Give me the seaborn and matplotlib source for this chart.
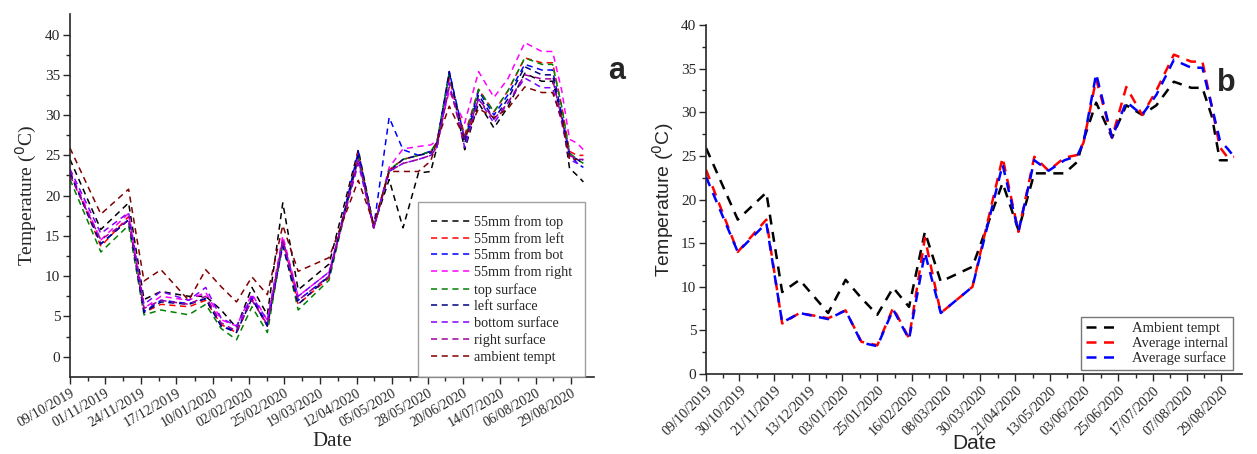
import numpy as np
import pandas as pd
import matplotlib.pyplot as plt
import matplotlib.dates as mdates
import seaborn as sns

# sampling dates (shared by both panels)
dates = ["09/10/2019", "29/10/2019", "16/11/2019", "26/11/2019", "07/12/2019", "25/12/2019",
         "05/01/2020", "15/01/2020", "25/01/2020", "04/02/2020", "14/02/2020", "24/02/2020",
         "05/03/2020", "25/03/2020", "13/04/2020", "23/04/2020", "03/05/2020", "12/05/2020",
         "22/05/2020", "30/05/2020", "03/06/2020", "11/06/2020", "21/06/2020", "30/06/2020",
         "10/07/2020", "19/07/2020", "30/07/2020", "10/08/2020", "17/08/2020", "23/08/2020",
         "28/08/2020", "02/09/2020", "06/09/2020"]

# panel a
mm55_top = [24.5, 15.8, 19.1, 7.1, 8.1, 7.5, 7.5, 5.8, 3.6, 8.6, 5.2, 19.1, 8.3, 11.5, 25.7, 16.2, 22.0,
            16.0, 22.8, 23.0, 26.0, 35.2, 25.7, 31.5, 28.4, 31.0, 35.2, 34.2, 34.2, 30.0, 23.4, 22.5, 21.7]
mm55_left = [23.0, 13.7, 17.4, 5.5, 6.5, 6.2, 7.0, 4.0, 3.0, 7.2, 3.8, 14.5, 6.5, 9.8, 25.3, 16.0, 23.2,
             24.5, 25.0, 25.5, 26.6, 34.5, 27.5, 33.2, 30.4, 33.0, 37.1, 36.5, 36.5, 31.0, 25.5, 25.0, 25.0]
mm55_bot = [22.8, 14.0, 17.0, 5.6, 7.0, 6.6, 7.2, 3.8, 3.2, 7.3, 4.0, 14.0, 7.0, 10.0, 25.5, 16.1, 29.7,
            25.7, 25.0, 25.5, 26.6, 35.4, 27.0, 33.0, 30.0, 32.5, 36.3, 35.6, 35.6, 30.0, 25.3, 24.0, 23.5]
mm55_right = [23.0, 14.5, 17.8, 6.0, 7.5, 7.0, 8.0, 4.6, 3.8, 7.8, 4.5, 15.0, 7.5, 10.5, 24.5, 16.0, 23.5,
              25.8, 26.1, 26.3, 26.8, 33.0, 29.0, 35.4, 32.2, 34.5, 39.0, 37.9, 37.9, 33.0, 27.0, 26.5, 25.7]
top_surf = [22.0, 13.0, 16.3, 5.2, 5.8, 5.2, 6.5, 3.5, 2.1, 6.2, 3.0, 14.2, 5.8, 9.5, 24.8, 16.0, 23.2,
            24.5, 25.0, 25.5, 26.6, 35.0, 27.0, 33.2, 30.4, 33.0, 37.1, 36.3, 36.3, 31.0, 25.3, 24.5, 24.0]
left_surf = [22.8, 14.0, 17.0, 5.5, 6.8, 6.5, 7.2, 3.8, 3.0, 7.2, 3.8, 13.8, 6.5, 10.0, 25.0, 16.0, 23.0,
             24.5, 25.0, 25.3, 26.5, 35.4, 26.5, 32.5, 29.5, 32.0, 36.0, 35.0, 35.0, 29.5, 25.0, 24.5, 24.0]
bot_surf = [23.3, 15.3, 17.9, 6.5, 8.1, 7.0, 8.6, 4.8, 3.8, 7.5, 4.5, 14.5, 7.5, 10.5, 24.0, 16.0, 23.0,
            24.0, 24.5, 25.0, 26.0, 34.0, 26.0, 32.0, 29.0, 31.5, 34.6, 33.4, 33.4, 29.0, 24.5, 24.0, 24.5]
right_surf = [22.5, 14.5, 17.0, 6.0, 7.0, 6.5, 7.5, 4.2, 3.2, 7.0, 4.0, 14.5, 7.0, 10.0, 24.5, 16.0, 23.0,
              24.0, 24.5, 25.0, 26.0, 33.5, 27.0, 32.0, 29.5, 31.5, 35.0, 34.5, 34.5, 29.5, 25.0, 24.5, 24.5]
ambient = [25.9, 17.7, 20.8, 9.4, 10.8, 7.0, 10.8, 8.7, 6.8, 9.9, 7.7, 16.3, 10.6, 12.3, 21.9, 16.5, 23.0,
           23.0, 23.0, 24.3, 26.8, 31.1, 27.1, 30.8, 29.7, 30.8, 33.5, 32.8, 32.8, 29.5, 24.5, 24.5, np.nan]

# panel b
avg_internal = [23.4, 14.0, 17.7, 5.8, 7.0, 6.4, 7.3, 3.7, 3.3, 7.6, 4.1, 15.6, 7.0, 10.0, 24.8, 16.3, 24.9,
                23.3, 24.8, 25.1, 26.5, 33.8, 27.1, 32.9, 29.7, 32.5, 36.6, 35.8, 35.8, 30.6, 26.0, 24.8, 24.9]
avg_surface = [22.6, 14.0, 17.3, 5.9, 7.0, 6.3, 7.3, 3.6, 3.2, 7.4, 4.0, 13.9, 7.0, 10.0, 24.0, 16.3, 24.5,
               23.3, 24.5, 25.0, 26.5, 34.4, 27.1, 31.2, 29.7, 32.0, 36.0, 35.1, 35.1, 30.6, 26.8, 25.8, 24.9]

ticks_a = ["09/10/2019", "01/11/2019", "24/11/2019", "17/12/2019", "10/01/2020", "02/02/2020",
           "25/02/2020", "19/03/2020", "12/04/2020", "05/05/2020", "28/05/2020", "20/06/2020",
           "14/07/2020", "06/08/2020", "29/08/2020"]
ticks_b = ["09/10/2019", "30/10/2019", "21/11/2019", "13/12/2019", "03/01/2020", "25/01/2020",
           "16/02/2020", "08/03/2020", "30/03/2020", "21/04/2020", "13/05/2020", "03/06/2020",
           "25/06/2020", "17/07/2020", "07/08/2020", "29/08/2020"]

sns.set_style("ticks")
plt.rcParams['font.family'] = ['Liberation Serif', 'DejaVu Sans']

x = pd.to_datetime(dates, dayfirst=True)
start = pd.Timestamp("2019-10-09")

fig = plt.figure(figsize=(12.57, 4.54), dpi=100)
ax1 = fig.add_axes([0.0557, 0.170, 0.417, 0.800])
ax2 = fig.add_axes([0.5617, 0.176, 0.4264, 0.769])

series_a = [
    ("55mm from top", mm55_top, "#000000"),
    ("55mm from left", mm55_left, "#ff0000"),
    ("55mm from bot", mm55_bot, "#0000ff"),
    ("55mm from right", mm55_right, "#ff00ff"),
    ("top surface", top_surf, "#008000"),
    ("left surface", left_surf, "#000080"),
    ("bottom surface", bot_surf, "#8000ff"),
    ("right surface", right_surf, "#a000a0"),
    ("ambient tempt", ambient, "#800000"),
]
for name, vals, col in series_a:
    sns.lineplot(x=x, y=vals, ax=ax1, color=col, label=name, linewidth=1.1,
                 linestyle=(0, (4, 3)))

series_b = [
    ("Ambient tempt", ambient, "#000000"),
    ("Average internal", avg_internal, "#ff0000"),
    ("Average surface", avg_surface, "#0000ff"),
]
for name, vals, col in series_b:
    sns.lineplot(x=x, y=vals, ax=ax2, color=col, label=name, linewidth=1.8,
                 linestyle=(0, (4, 3)))


def style_axis(ax, ticks, xmax_days, ylim, rot, sans, tfs, lpad):
    ax.set_xlim(start, start + pd.Timedelta(days=xmax_days))
    ax.set_ylim(*ylim)
    tpos = pd.to_datetime(ticks, dayfirst=True)
    ax.set_xticks(tpos)
    num = mdates.date2num(tpos)
    ax.set_xticks((num[:-1] + num[1:]) / 2, minor=True)
    fam = ['Liberation Serif']
    ax.set_xticklabels(ticks, rotation=rot, ha='right', rotation_mode='anchor',
                       fontsize=tfs, family=fam)
    ax.set_yticks(np.arange(0, 41, 5))
    ax.set_yticks(np.arange(2.5, 41, 5), minor=True)
    for lab in ax.get_yticklabels():
        lab.set_fontsize(11)
        lab.set_family(fam)
    ax.tick_params(which='major', length=5, width=1, direction='out', pad=2)
    ax.tick_params(which='minor', length=3, width=1, direction='out')
    for s in ['top', 'right']:
        ax.spines[s].set_visible(False)
    for s in ['left', 'bottom']:
        ax.spines[s].set_linewidth(1.2)
    lab_fam = ['Liberation Sans'] if sans else ['Liberation Serif']
    ax.set_xlabel("Date", fontsize=15, family=lab_fam, labelpad=lpad)
    ax.set_ylabel(r"Temperature ($^{0}$C)", fontsize=14, family=lab_fam, labelpad=4)


style_axis(ax1, ticks_a, 340, (-2.5, 42.6), 30, False, 10, 2)
style_axis(ax2, ticks_b, 338, (0, 40), 45, True, 10.2, -3)

leg1 = ax1.legend(loc='lower right', bbox_to_anchor=(0.983, 0.0), borderaxespad=0, frameon=True,
                  fancybox=False, edgecolor='#888888', handlelength=2.8, handletextpad=0.2,
                  labelspacing=0.25, borderpad=0.9, prop={'family': 'Liberation Serif', 'size': 10.3})
leg1.get_frame().set_linewidth(1.0)
leg2 = ax2.legend(loc='lower right', bbox_to_anchor=(0.983, 0.011), borderaxespad=0, frameon=True,
                  fancybox=False, edgecolor='#555555', handlelength=2.2, handletextpad=0.9,
                  labelspacing=0.1, borderpad=0.35, prop={'family': 'Liberation Serif', 'size': 10.5})
leg2.get_frame().set_linewidth(1.0)

fig.text(0.484, 0.825, "a", fontsize=22, fontweight='bold', family='Liberation Sans')
fig.text(0.968, 0.80, "b", fontsize=22, fontweight='bold', family='Liberation Sans')

fig.savefig("out.png", dpi=100)
